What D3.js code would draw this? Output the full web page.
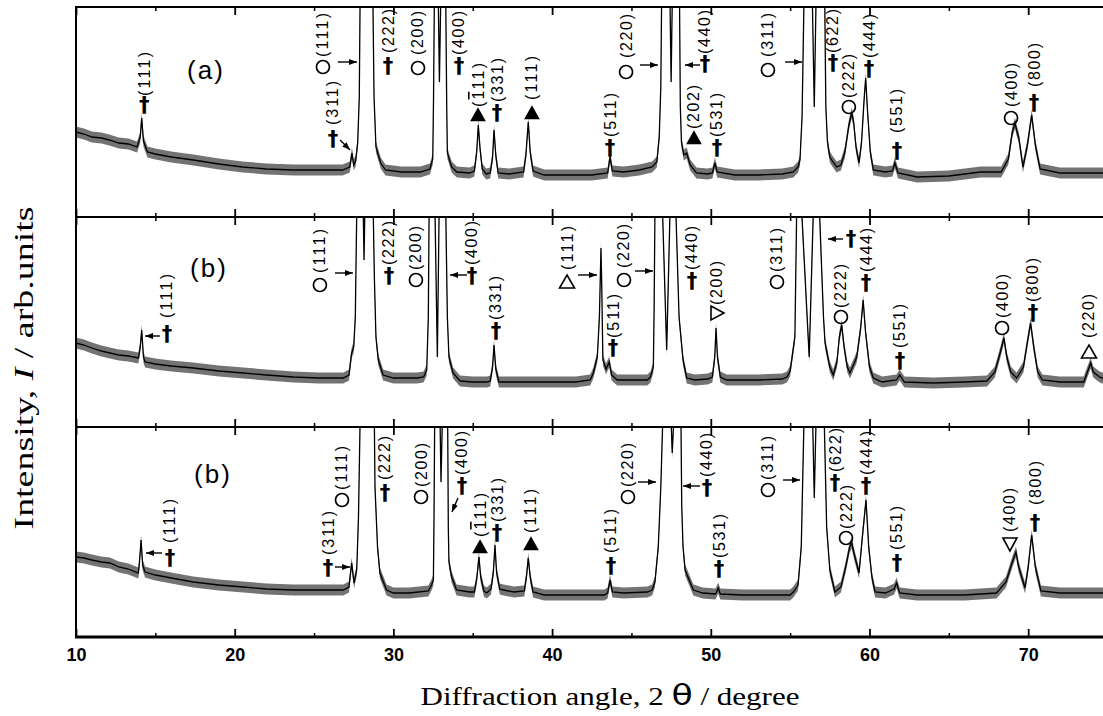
<!DOCTYPE html>
<html>
<head>
<meta charset="utf-8">
<script src="https://cdn.jsdelivr.net/npm/d3@7"></script>
<style>
  body { margin: 0; background: #fff; }
</style>
</head>
<body>
<svg id="chart" width="1103" height="716"></svg>
<script>
// 2theta (deg), intensity (arb.units, 0-210 per panel; >210 runs off the panel)
const spectrumA = [[10.0,85],[10.5,83],[11.0,80],[11.6,79],[12.1,77],[12.7,74],[13.3,73],[13.85,70],[14.05,80],[14.14,99],[14.25,76],[14.5,65],[15.0,63],[16.0,60],[17.4,57],[19.0,53],[20.5,50],[22.0,48],[23.7,47],[25.2,47],[26.8,47],[27.25,50],[27.39,64],[27.5,52],[27.62,56],[27.75,74],[27.85,120],[27.9,215],[28.3,600],[28.71,215],[28.78,120],[28.9,70],[29.2,54],[29.5,47],[30.5,45],[31.7,45],[32.3,48],[32.48,58],[32.53,120],[32.58,215],[32.7,400],[32.83,215],[32.9,135],[32.98,215],[33.15,400],[33.3,215],[33.36,110],[33.4,64],[33.67,50],[34.0,45],[34.8,44],[35.1,46],[35.25,65],[35.35,92],[35.45,70],[35.6,48],[35.85,43],[36.1,44],[36.25,60],[36.34,87],[36.45,62],[36.6,44],[37.3,43],[38.2,45],[38.35,62],[38.5,95],[38.62,65],[38.8,46],[39.5,42],[41.0,42],[42.5,42],[43.5,44],[43.65,60],[43.8,46],[44.5,45],[45.5,47],[46.3,50],[46.6,55],[46.75,80],[46.85,130],[46.9,215],[47.15,400],[47.43,215],[47.5,135],[47.57,215],[47.8,400],[48.03,215],[48.08,110],[48.15,75],[48.3,62],[48.48,64],[48.7,52],[49.1,44],[49.8,43],[50.1,44],[50.26,54],[50.4,45],[51.5,42],[53.0,42],[54.5,43],[55.2,45],[55.5,50],[55.62,57],[55.75,100],[55.87,215],[56.1,400],[56.4,215],[56.52,110],[56.63,215],[56.9,400],[57.18,215],[57.25,110],[57.35,75],[57.5,60],[57.7,55],[57.93,50],[58.2,52],[58.45,65],[58.7,92],[58.88,104],[59.0,95],[59.15,70],[59.34,54],[59.5,75],[59.65,115],[59.76,139],[59.88,105],[60.05,65],[60.24,47],[61.0,45],[61.45,46],[61.6,54],[61.8,44],[63.0,40],[65.0,41],[67.0,45],[68.3,45],[68.75,58],[69.0,85],[69.17,94],[69.28,86],[69.4,80],[69.67,50],[69.95,72],[70.22,102],[70.45,72],[70.75,48],[72.0,44],[73.5,44],[75.0,44]];

const spectrumB = [[10.0,84],[10.5,82],[11.0,79],[11.6,76],[12.14,74],[12.7,72],[13.3,71],[13.93,69],[14.05,80],[14.14,97],[14.25,70],[14.35,65],[15.0,63],[16.0,61],[17.39,59],[19.0,56],[20.54,54],[22.0,52],[23.7,50],[25.3,49],[26.84,49],[27.2,52],[27.37,74],[27.5,80],[27.6,110],[27.69,215],[27.9,400],[28.1,215],[28.15,167],[28.2,215],[28.45,400],[28.73,215],[28.8,150],[28.9,90],[29.05,67],[29.35,52],[30.0,49],[31.5,49],[31.9,50],[32.1,57],[32.2,110],[32.25,215],[32.45,400],[32.62,215],[32.77,70],[32.88,215],[33.1,400],[33.3,215],[33.4,110],[33.5,70],[33.76,54],[34.2,46],[35.0,45],[35.9,45],[36.1,46],[36.25,60],[36.34,82],[36.45,58],[36.65,45],[38.0,45],[40.0,45],[41.5,45],[42.4,47],[42.6,54],[42.85,70],[42.98,110],[43.08,179],[43.13,140],[43.2,67],[43.4,58],[43.6,65],[43.75,52],[44.1,47],[45.0,47],[46.0,47],[46.2,50],[46.38,60],[46.43,120],[46.48,215],[46.7,400],[46.96,215],[47.22,77],[47.43,215],[47.6,400],[47.8,215],[48.0,110],[48.25,67],[48.48,49],[49.0,47],[49.8,48],[50.1,50],[50.25,70],[50.33,99],[50.42,70],[50.6,50],[51.0,47],[53.0,47],[54.5,48],[54.8,50],[55.0,56],[55.3,90],[55.41,215],[55.55,400],[55.73,215],[56.2,70],[56.46,215],[56.6,400],[56.85,215],[57.1,110],[57.2,84],[57.5,60],[57.72,52],[57.95,65],[58.1,90],[58.25,102],[58.4,80],[58.6,60],[58.77,54],[59.2,70],[59.45,100],[59.6,127],[59.75,95],[60.0,60],[60.24,49],[60.8,45],[61.7,47],[61.9,52],[62.2,45],[64.0,44],[66.0,45],[67.4,46],[67.9,55],[68.25,75],[68.47,89],[68.65,70],[68.9,55],[69.27,49],[69.7,60],[69.95,85],[70.15,104],[70.35,80],[70.6,55],[70.9,47],[72.0,45],[73.5,45],[73.8,58],[73.94,64],[74.1,55],[74.5,50],[75.0,47]];

const spectrumC = [[10.0,80],[10.5,79],[11.0,77],[11.6,75],[12.14,74],[12.7,70],[13.3,68],[13.93,64],[14.0,75],[14.1,97],[14.2,72],[14.35,65],[15.0,62],[16.0,59],[17.39,55],[19.0,52],[20.54,50],[22.0,48],[23.7,47],[25.3,47],[26.84,47],[27.2,50],[27.37,74],[27.52,54],[27.69,67],[27.8,120],[27.9,215],[28.35,500],[28.8,215],[28.84,150],[29.0,90],[29.15,64],[29.57,47],[30.0,44],[31.0,44],[32.2,46],[32.4,52],[32.52,57],[32.56,120],[32.6,215],[32.75,400],[32.94,215],[33.0,155],[33.08,215],[33.3,400],[33.42,215],[33.46,110],[33.5,75],[33.67,60],[33.98,47],[34.8,45],[35.1,45],[35.25,58],[35.39,80],[35.5,60],[35.7,46],[35.88,44],[36.15,48],[36.3,65],[36.4,92],[36.5,65],[36.7,48],[36.93,47],[37.6,45],[38.25,46],[38.38,60],[38.5,79],[38.62,60],[38.8,45],[39.5,42],[41.5,42],[43.3,42],[43.5,44],[43.65,57],[43.8,45],[44.5,44],[46.0,45],[46.3,47],[46.48,55],[46.69,90],[46.85,150],[46.97,215],[47.2,400],[47.5,215],[47.57,184],[47.66,215],[47.9,400],[48.12,215],[48.17,130],[48.25,90],[48.38,67],[48.9,47],[49.5,44],[50.3,43],[50.47,49],[50.6,43],[52.0,42],[55.0,42],[55.2,45],[55.5,52],[55.7,90],[55.87,215],[56.15,400],[56.42,215],[56.52,139],[56.63,215],[56.9,400],[57.15,215],[57.3,110],[57.5,67],[57.82,45],[58.2,50],[58.5,70],[58.75,90],[58.88,94],[59.0,85],[59.34,64],[59.55,100],[59.78,137],[59.95,90],[60.15,60],[60.35,45],[61.0,44],[61.55,48],[61.71,54],[61.9,44],[63.0,42],[66.0,42],[68.0,44],[68.6,55],[69.0,75],[69.23,85],[69.4,70],[69.8,49],[70.0,70],[70.22,102],[70.45,70],[70.8,46],[72.0,44],[75.0,44]];

// half width of the noise band seen round each trace
const noiseHalf = [5.5, 5.5, 5.5];

const panelNames = ["(a)", "(b)", "(b)"];
const panelNamePos = [[18.19, 147], [18.38, 159], [18.63, 163]];

const xTickLabels = [10, 20, 30, 40, 50, 60, 70];
const xMinorTicks = [15, 25, 35, 45, 55, 65, 75];

// [symbol, 2theta, intensity of symbol, label, intensity of label foot]
const marksA = [
  ["dagger", 14.3, 113, "(111)", 121],
  ["circle", 25.56, 150, "(111)", 160],
  ["dagger", 26.19, 79, "(311)", 92],
  ["dagger", 29.66, 152, "(222)", 164],
  ["circle", 31.55, 149, "(200)", 162],
  ["dagger", 34.13, 152, "(400)", 162],
  ["tri", 35.33, 102, "(1\u030411)", 110],
  ["dagger", 36.53, 105, "(331)", 115],
  ["tri", 38.73, 104, "(111)", 117],
  ["dagger", 43.65, 70, "(511)", 80],
  ["circle", 44.66, 145, "(220)", 159],
  ["dagger", 49.63, 154, "(440)", 163],
  ["tri", 48.94, 79, "(202)", 88],
  ["dagger", 50.39, 70, "(531)", 80],
  ["circle", 53.6, 147, "(311)", 160],
  ["dagger", 57.7, 155, "(622)", 164],
  ["circle", 58.7, 110, "(222)", 119],
  ["dagger", 59.97, 149, "(444)", 159],
  ["dagger", 61.73, 67, "(551)", 84],
  ["circle", 68.92, 99, "(400)", 110],
  ["dagger", 70.37, 115, "(800)", 130]
];
const marksB = [
  ["dagger", 15.73, 94, "(111)", 109],
  ["circle", 25.37, 142, "(111)", 154],
  ["dagger", 29.72, 152, "(222)", 162],
  ["circle", 31.42, 147, "(200)", 157],
  ["dagger", 34.95, 152, "(400)", 162],
  ["dagger", 36.46, 97, "(331)", 107],
  ["otri", 40.94, 145, "(111)", 157],
  ["dagger", 43.84, 80, "(511)", 89],
  ["circle", 44.53, 147, "(220)", 159],
  ["dagger", 48.81, 147, "(440)", 157],
  ["rtri", 50.39, 114, "(200)", 122],
  ["circle", 54.17, 145, "(311)", 155],
  ["dagger", 58.83, 189, "", 0],
  ["circle", 58.2, 110, "(222)", 119],
  ["dagger", 59.78, 145, "(444)", 155],
  ["dagger", 61.92, 67, "(551)", 79],
  ["circle", 68.35, 99, "(400)", 109],
  ["dagger", 70.3, 115, "(800)", 125],
  ["otri", 73.83, 75, "(220)", 89]
];
const marksC = [
  ["dagger", 15.92, 80, "(111)", 94],
  ["circle", 26.76, 137, "(111)", 147],
  ["dagger", 25.88, 70, "(311)", 82],
  ["dagger", 29.47, 145, "(222)", 157],
  ["circle", 31.74, 140, "(200)", 150],
  ["dagger", 34.32, 152, "(400)", 162],
  ["tri", 35.46, 90, "(1\u030411)", 100],
  ["dagger", 36.53, 105, "(331)", 115],
  ["tri", 38.67, 93, "(111)", 104],
  ["dagger", 43.71, 72, "(511)", 84],
  ["circle", 44.78, 140, "(220)", 150],
  ["dagger", 49.76, 150, "(440)", 160],
  ["dagger", 50.52, 69, "(531)", 79],
  ["circle", 53.6, 147, "(311)", 157],
  ["dagger", 57.83, 155, "(622)", 165],
  ["circle", 58.52, 99, "(222)", 108],
  ["dagger", 59.78, 152, "(444)", 162],
  ["dagger", 61.73, 75, "(551)", 87],
  ["dtri", 68.85, 93, "(400)", 105],
  ["dagger", 70.43, 115, "(800)", 132]
];

// [from 2theta, from I, to 2theta, to I]
const arrowsA = [[26.5,155,27.7,155],[26.64,77,27.27,67],[45.54,152,46.67,152],[49.32,152,48.37,152],[54.68,155,55.75,155]];
const arrowsB = [[15.29,91,14.35,91],[26.32,154,27.45,154],[34.64,152,33.57,152],[41.63,152,42.83,152],[45.22,156,46.36,156],[58.33,188,57.38,188]];
const arrowsC = [[15.42,84,14.41,84],[26.32,70,27.27,70],[34.07,139,33.69,125],[45.41,155,46.55,155],[49.32,151,48.25,151],[54.55,157,55.62,157]];

const spectra = [spectrumA, spectrumB, spectrumC];
const marks = [marksA, marksB, marksC];
const arrows = [arrowsA, arrowsB, arrowsC];

const svg = d3.select("#chart");
const x = d3.scaleLinear().domain([10, 75]).range([76, 76 + 65 * 15.87]);
const panelTop = [7, 217, 427];
const panelH = 210;
const right = 1110;

svg.append("defs").append("marker")
  .attr("id", "arrow")
  .attr("markerUnits", "userSpaceOnUse")
  .attr("markerWidth", 8).attr("markerHeight", 6)
  .attr("refX", 8).attr("refY", 3)
  .attr("orient", "auto")
  .append("path").attr("d", "M0,0L8,3L0,6Z").attr("fill", "#000");

function labelText(t, s) {
  // U+0304 puts a bar over the digit before it
  const parts = s.split("\u0304");
  if (parts.length === 1) { t.text(s); return; }
  t.append("tspan").text(parts[0].slice(0, -1));
  t.append("tspan").style("text-decoration", "overline").text(parts[0].slice(-1));
  t.append("tspan").text(parts[1]);
}

spectra.forEach((data, i) => {
  const top = panelTop[i], bottom = top + panelH;
  const y = d3.scaleLinear().domain([0, panelH]).range([bottom, top]);
  const g = svg.append("g");

  g.append("clipPath").attr("id", "clip" + i)
    .append("rect").attr("x", 76).attr("y", top).attr("width", right - 76).attr("height", panelH);

  const plot = g.append("g").attr("clip-path", `url(#clip${i})`);
  const band = d3.area()
    .x(d => x(d[0]))
    .y0(d => y(d[1] - noiseHalf[i]))
    .y1(d => y(d[1] + noiseHalf[i]));
  plot.append("path").datum(data).attr("d", band)
    .attr("fill", "#000").attr("fill-opacity", 0.55);
  plot.append("path").datum(data)
    .attr("d", d3.line().x(d => x(d[0])).y(d => y(d[1])))
    .attr("fill", "none").attr("stroke", "#000").attr("stroke-width", 1.3);

  // inward ticks top and bottom
  [[d3.axisTop, top], [d3.axisBottom, bottom]].forEach(([ax, yy]) => {
    g.append("g").attr("transform", `translate(0,${yy})`)
      .call(ax(x).tickValues(xTickLabels).tickSize(-8).tickFormat(""))
      .call(a => a.select(".domain").remove())
      .selectAll("line").attr("stroke-width", 1.8);
    g.append("g").attr("transform", `translate(0,${yy})`)
      .call(ax(x).tickValues(xMinorTicks).tickSize(-4).tickFormat(""))
      .call(a => a.select(".domain").remove())
      .selectAll("line").attr("stroke-width", 1.5);
  });

  // frame
  g.append("line").attr("x1", 76).attr("x2", 76).attr("y1", top).attr("y2", bottom)
    .attr("stroke", "#000").attr("stroke-width", 2);
  g.append("line").attr("x1", 75).attr("x2", right).attr("y1", top).attr("y2", top)
    .attr("stroke", "#000").attr("stroke-width", 2.2);
  g.append("line").attr("x1", 75).attr("x2", right).attr("y1", bottom).attr("y2", bottom)
    .attr("stroke", "#000").attr("stroke-width", i === 2 ? 3 : 2.2);

  g.append("text")
    .attr("x", x(panelNamePos[i][0])).attr("y", y(panelNamePos[i][1]))
    .attr("text-anchor", "middle").attr("dominant-baseline", "central")
    .attr("font-family", "Liberation Sans, Arial, sans-serif")
    .attr("font-size", 26).style("letter-spacing", "2px")
    .text(panelNames[i]);

  marks[i].forEach(([sym, deg, symI, label, labI]) => {
    const cx = x(deg), cy = y(symI);
    if (sym === "dagger") {
      g.append("text").attr("x", cx).attr("y", cy + 1)
        .attr("text-anchor", "middle").attr("dominant-baseline", "central")
        .attr("font-family", "DejaVu Sans, sans-serif").attr("font-weight", "bold")
        .attr("font-size", 21).attr("fill", "#000").text("\u2020");
    } else if (sym === "circle") {
      g.append("circle").attr("cx", cx).attr("cy", cy).attr("r", 6.5)
        .attr("fill", "none").attr("stroke", "#000").attr("stroke-width", 1.7);
    } else {
      const shapes = {
        tri: "M0,-6L6.5,5.5L-6.5,5.5Z",
        otri: "M0,-7L7.5,6L-7.5,6Z",
        dtri: "M-7,-6L7,-6L0,7Z",
        rtri: "M-6,-7L7,0L-6,7Z"
      };
      g.append("path").attr("d", shapes[sym])
        .attr("transform", `translate(${cx},${cy})`)
        .attr("fill", sym === "tri" ? "#000" : "none")
        .attr("stroke", "#000").attr("stroke-width", 1.6);
    }
    if (label) {
      const t = g.append("text")
        .attr("transform", `translate(${cx},${y(labI)}) rotate(-90)`)
        .attr("text-anchor", "start").attr("dominant-baseline", "central")
        .attr("font-family", "Liberation Sans, Arial, sans-serif")
        .attr("font-size", 16)
        .attr("textLength", 44).attr("lengthAdjust", "spacing");
      labelText(t, label);
    }
  });

  arrows[i].forEach(([d1, i1, d2, i2]) => {
    g.append("line")
      .attr("x1", x(d1)).attr("y1", y(i1)).attr("x2", x(d2)).attr("y2", y(i2))
      .attr("stroke", "#000").attr("stroke-width", 1.4)
      .attr("marker-end", "url(#arrow)");
  });
});

// x tick labels under the lowest panel
const xAxis = svg.append("g").attr("transform", `translate(0,${panelTop[2] + panelH})`)
  .call(d3.axisBottom(x).tickValues(xTickLabels).tickSize(0).tickPadding(11).tickFormat(d3.format("d")));
xAxis.select(".domain").remove();
xAxis.selectAll("text")
  .attr("font-family", "Liberation Sans Narrow, Liberation Sans, Arial, sans-serif")
  .attr("font-size", 18).attr("font-weight", "bold").attr("fill", "#000");

svg.append("text")
  .attr("x", 610).attr("y", 705)
  .attr("text-anchor", "middle")
  .attr("font-family", "Liberation Serif, Times New Roman, serif")
  .attr("font-size", 25)
  .attr("textLength", 379).attr("lengthAdjust", "spacingAndGlyphs")
  .call(t => {
    t.append("tspan").text("Diffraction angle, 2 ");
    t.append("tspan").attr("font-family", "DejaVu Sans, sans-serif").attr("font-size", 28).text("\u03b8");
    t.append("tspan").text("  / degree");
  });

svg.append("text")
  .attr("transform", "translate(33,368) rotate(-90)")
  .attr("text-anchor", "middle")
  .attr("font-family", "Liberation Serif, Times New Roman, serif")
  .attr("font-size", 27)
  .attr("textLength", 323).attr("lengthAdjust", "spacingAndGlyphs")
  .call(t => {
    t.append("tspan").text("Intensity, ");
    t.append("tspan").attr("font-style", "italic").text("I");
    t.append("tspan").text(" / arb.units");
  });
</script>
</body>
</html>
